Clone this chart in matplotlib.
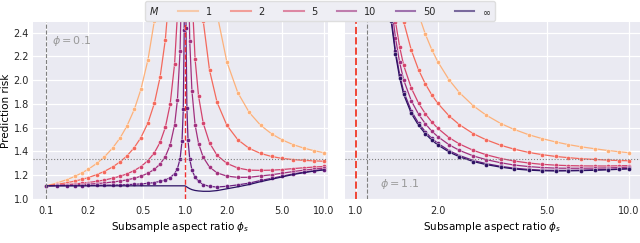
import matplotlib
matplotlib.use("Agg")
import matplotlib.pyplot as plt
from matplotlib.lines import Line2D

# values
M_labels = ["1", "2", "5", "10", "50", r"$\infty$"]
colors = ["#fdb17a", "#f4695c", "#d3436e", "#a1307e", "#6b1f80", "#2b1163"]

phi_left = 0.1
phi_right = 1.1
null_risk = 1.333

xs_left = [0.1, 0.12, 0.14, 0.16, 0.18, 0.2, 0.23, 0.26, 0.3, 0.34, 0.38, 0.43,
           0.48, 0.54, 0.6, 0.66, 0.72, 0.78, 0.84, 0.88, 0.92, 0.95, 0.97, 0.985,
           0.993, 1.007, 1.015, 1.03, 1.05, 1.08, 1.12, 1.18, 1.25, 1.35, 1.5, 1.7,
           2.0, 2.4, 2.9, 3.5, 4.2, 5.0, 6.0, 7.2, 8.5, 10.0]

left_m1 = [1.111, 1.136, 1.163, 1.19, 1.22, 1.25, 1.299, 1.351, 1.429, 1.515, 1.613, 1.754,
           1.923, 2.174, 2.5, 2.941, 3.571, 4.545, 6.25, 8.333, 12.5, 20.0, 33.33, 66.67,
           142.9, 143.9, 67.67, 34.34, 21.02, 13.52, 9.367, 6.603, 5.062, 3.938, 3.103, 2.556,
           2.155, 1.895, 1.729, 1.621, 1.549, 1.498, 1.458, 1.428, 1.407, 1.39]
left_m2 = [1.111, 1.124, 1.137, 1.151, 1.165, 1.18, 1.205, 1.231, 1.27, 1.313, 1.362, 1.433,
           1.517, 1.642, 1.805, 2.026, 2.341, 2.828, 3.681, 4.722, 6.806, 10.56, 17.22, 33.89,
           71.99, 72.48, 34.39, 17.72, 11.06, 7.305, 5.223, 3.838, 3.065, 2.502, 2.084, 1.814,
           1.621, 1.499, 1.426, 1.384, 1.358, 1.342, 1.332, 1.325, 1.321, 1.318]
left_m5 = [1.111, 1.116, 1.121, 1.127, 1.133, 1.139, 1.149, 1.159, 1.175, 1.192, 1.211, 1.24,
           1.273, 1.324, 1.389, 1.477, 1.603, 1.798, 2.139, 2.555, 3.389, 4.889, 7.555, 14.22,
           29.46, 29.66, 14.42, 7.749, 5.079, 3.574, 2.737, 2.178, 1.867, 1.64, 1.473, 1.368,
           1.3, 1.261, 1.243, 1.241, 1.243, 1.248, 1.256, 1.263, 1.269, 1.274]
left_m10 = [1.111, 1.114, 1.116, 1.119, 1.122, 1.125, 1.13, 1.135, 1.143, 1.151, 1.161, 1.175,
            1.192, 1.217, 1.25, 1.294, 1.357, 1.454, 1.625, 1.833, 2.25, 3.0, 4.333, 7.667,
            15.29, 15.38, 7.762, 4.425, 3.087, 2.331, 1.908, 1.625, 1.467, 1.352, 1.269, 1.22,
            1.193, 1.182, 1.183, 1.194, 1.204, 1.217, 1.231, 1.243, 1.252, 1.26]
left_m50 = [1.111, 1.112, 1.112, 1.113, 1.113, 1.114, 1.115, 1.116, 1.117, 1.119, 1.121, 1.124,
            1.127, 1.132, 1.139, 1.148, 1.16, 1.18, 1.214, 1.255, 1.339, 1.489, 1.755, 2.422,
            3.946, 3.964, 2.437, 1.766, 1.493, 1.336, 1.245, 1.183, 1.148, 1.122, 1.106, 1.101,
            1.107, 1.119, 1.134, 1.156, 1.174, 1.192, 1.211, 1.226, 1.238, 1.248]
left_inf = [1.111, 1.111, 1.111, 1.111, 1.111, 1.111, 1.111, 1.111, 1.111, 1.111, 1.111, 1.111,
            1.111, 1.111, 1.111, 1.111, 1.111, 1.111, 1.111, 1.111, 1.111, 1.111, 1.111, 1.111,
            1.111, 1.109, 1.106, 1.101, 1.095, 1.087, 1.079, 1.072, 1.068, 1.065, 1.065, 1.071,
            1.086, 1.103, 1.122, 1.146, 1.166, 1.186, 1.206, 1.222, 1.235, 1.245]

xs_right = [1.25, 1.3, 1.35, 1.4, 1.45, 1.5, 1.6, 1.7, 1.8, 1.9, 2.0, 2.2, 2.4, 2.7, 3.0,
            3.4, 3.8, 4.3, 4.8, 5.4, 6.0, 6.7, 7.5, 8.4, 9.2, 10.0]

right_m1 = [5.062, 4.405, 3.938, 3.589, 3.318, 3.103, 2.783, 2.556, 2.388, 2.258, 2.155, 2.002,
            1.895, 1.783, 1.707, 1.635, 1.586, 1.541, 1.509, 1.480, 1.458, 1.439, 1.423, 1.408,
            1.398, 1.390]
right_m2 = [4.231, 3.653, 3.219, 2.905, 2.669, 2.492, 2.252, 2.088, 1.969, 1.877, 1.805, 1.699,
            1.625, 1.549, 1.499, 1.452, 1.420, 1.392, 1.374, 1.358, 1.348, 1.339, 1.333, 1.327,
            1.324, 1.322]
right_m5 = [3.732, 3.201, 2.788, 2.494, 2.280, 2.125, 1.933, 1.807, 1.718, 1.648, 1.595, 1.516,
            1.463, 1.409, 1.373, 1.341, 1.320, 1.303, 1.292, 1.285, 1.281, 1.279, 1.278, 1.278,
            1.280, 1.281]
right_m10 = [3.566, 3.051, 2.644, 2.357, 2.150, 2.002, 1.826, 1.714, 1.634, 1.571, 1.525, 1.456,
             1.409, 1.362, 1.332, 1.305, 1.286, 1.273, 1.265, 1.260, 1.259, 1.259, 1.260, 1.262,
             1.265, 1.268]
right_m50 = [3.433, 2.930, 2.529, 2.247, 2.046, 1.904, 1.741, 1.639, 1.567, 1.510, 1.469, 1.407,
             1.366, 1.324, 1.298, 1.275, 1.260, 1.249, 1.243, 1.241, 1.241, 1.243, 1.246, 1.249,
             1.253, 1.257]
right_inf = [3.40, 2.90, 2.50, 2.22, 2.02, 1.88, 1.72, 1.62, 1.55, 1.495, 1.455, 1.395,
             1.355, 1.315, 1.29, 1.268, 1.253, 1.243, 1.238, 1.236, 1.237, 1.239, 1.242, 1.246,
             1.25, 1.254]

left_ticks = [0.1, 0.2, 0.5, 1.0, 2.0, 5.0, 10.0]
right_ticks = [1.0, 2.0, 5.0, 10.0]
y_ticks = [1.0, 1.2, 1.4, 1.6, 1.8, 2.0, 2.2, 2.4]

plt.rcParams["font.size"] = 7
plt.rcParams["axes.facecolor"] = "#EAEAF2"
plt.rcParams["text.color"] = "#262626"
plt.rcParams["xtick.color"] = "#262626"
plt.rcParams["ytick.color"] = "#262626"

fig = plt.figure(figsize=(6.4, 2.43), dpi=100)
ax1 = fig.add_axes([0.0516, 0.181, 0.461, 0.7285])
ax2 = fig.add_axes([0.539, 0.181, 0.461, 0.7285])

left_curves = [left_m1, left_m2, left_m5, left_m10, left_m50]
right_curves = [right_m1, right_m2, right_m5, right_m10, right_m50, right_inf]

mk = dict(marker="o", ms=3.0, mec="white", mew=0.3)
for ys, c in zip(left_curves, colors):
    ax1.plot(xs_left, ys, color=c, lw=0.9, **mk)
ax1.plot(xs_left, left_inf, color=colors[-1], lw=0.9)

for ys, c in zip(right_curves, colors):
    ax2.plot(xs_right, ys, color=c, lw=0.9, **mk)

ax1.axvline(phi_left, color="grey", ls="--", lw=0.8)
ax1.axvline(1.0, color="#f03030", ls="--", lw=1.0, zorder=5)
ax2.axvline(1.0, color="#f04535", ls="--", lw=1.4, zorder=5)
ax2.axvline(phi_right, color="grey", ls="--", lw=0.8)

for ax in (ax1, ax2):
    ax.axhline(null_risk, color="grey", ls=":", lw=0.8)
    ax.set_xscale("log")
    ax.set_ylim(1.0, 2.49)
    ax.set_yticks(y_ticks)
    ax.minorticks_off()
    ax.grid(True, color="white", lw=0.9)
    ax.set_axisbelow(True)
    for s in ax.spines.values():
        s.set_visible(False)
    ax.tick_params(length=0, labelsize=7)
    ax.tick_params(axis="x", pad=5)
    ax.tick_params(axis="y", pad=3)
    ax.set_xlabel(r"Subsample aspect ratio $\phi_s$", fontsize=7.5, labelpad=3)

ax1.set_xlim(0.080, 10.74)
ax1.set_xticks(left_ticks)
ax1.set_xticklabels([f"{t:.1f}" for t in left_ticks])
ax1.set_ylabel("Prediction risk", fontsize=7.5, labelpad=1.5)

ax2.set_xlim(0.915, 10.97)
ax2.set_xticks(right_ticks)
ax2.set_xticklabels([f"{t:.1f}" for t in right_ticks])
ax2.tick_params(labelleft=False)

ax1.text(0.065, 0.89, r"$\phi = 0.1$", transform=ax1.transAxes, color="#999999",
         fontsize=8, va="center")
ax2.text(0.12, 0.085, r"$\phi = 1.1$", transform=ax2.transAxes, color="#999999",
         fontsize=8, va="center")

handles = [Line2D([], [], color=c, lw=1.5, alpha=0.6) for c in colors]
leg = fig.legend(handles, M_labels, title="$M$", ncol=6, loc="upper center",
                 bbox_to_anchor=(0.5, 1.0), borderaxespad=0.1, fontsize=7,
                 title_fontsize=7, frameon=True, edgecolor="#d8d8d8")
# put the legend title inline, to the left of the entries
box = leg.get_children()[0]
title_box, handle_box = box.get_children()
box._children = [handle_box]
handle_box._children = [title_box] + handle_box.get_children()

fig.savefig("out.png", dpi=100)
